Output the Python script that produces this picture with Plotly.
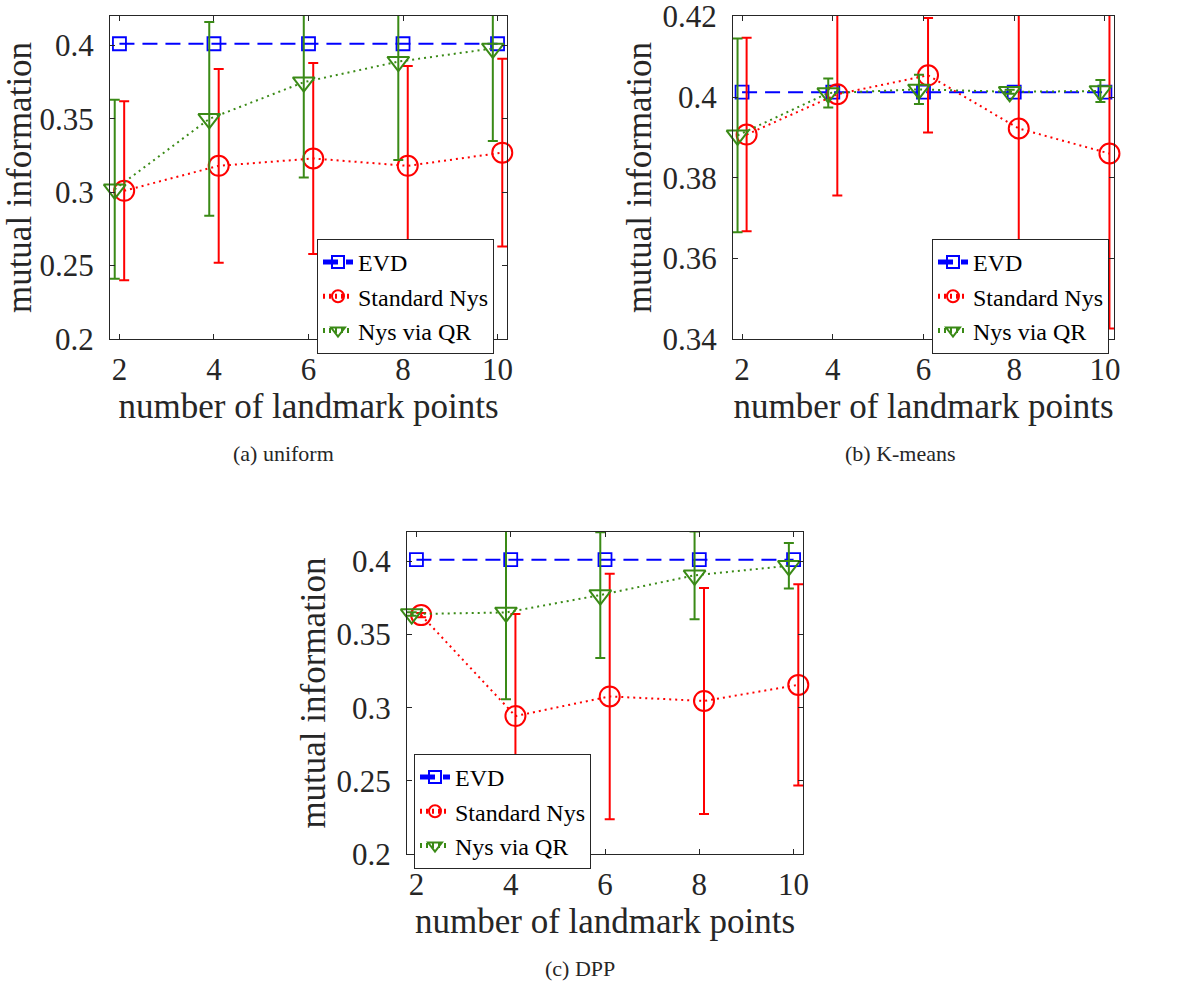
import plotly.graph_objects as go

# number of landmark points on the x axis
landmarks = [2, 4, 6, 8, 10]

# (a) uniform sampling
uniform_evd = [0.4012, 0.4012, 0.4012, 0.4012, 0.4012]
uniform_std_nys = [0.301, 0.318, 0.323, 0.318, 0.327]
uniform_std_nys_err = [0.061, 0.066, 0.065, 0.068, 0.064]
uniform_qr = [0.302, 0.350, 0.375, 0.389, 0.398]
uniform_qr_err = [0.061, 0.066, 0.065, 0.067, 0.063]

# (b) K-means sampling
kmeans_evd = [0.4012, 0.4012, 0.4012, 0.4012, 0.4012]
kmeans_std_nys = [0.3907, 0.4007, 0.4054, 0.3922, 0.3860]
kmeans_std_nys_err = [0.0240, 0.0251, 0.0142, 0.0320, 0.0434]
kmeans_qr = [0.3905, 0.4010, 0.4019, 0.4013, 0.4015]
kmeans_qr_err = [0.0240, 0.0036, 0.0036, 0.0005, 0.0027]

# (c) DPP sampling
dpp_evd = [0.4012, 0.4012, 0.4012, 0.4012, 0.4012]
dpp_std_nys = [0.3633, 0.2943, 0.3077, 0.3046, 0.3156]
dpp_std_nys_err = [0.0015, 0.0697, 0.0839, 0.0773, 0.0688]
dpp_qr = [0.3640, 0.3651, 0.3770, 0.3905, 0.3970]
dpp_qr_err = [0.0012, 0.0594, 0.0430, 0.0300, 0.0156]

# y-axis ticks per panel
ticks_a = [0.2, 0.25, 0.3, 0.35, 0.4]
ticklabels_a = ["0.2", "0.25", "0.3", "0.35", "0.4"]
ticks_b = [0.34, 0.36, 0.38, 0.4, 0.42]
ticklabels_b = ["0.34", "0.36", "0.38", "0.4", "0.42"]
ticks_c = [0.2, 0.25, 0.3, 0.35, 0.4]
ticklabels_c = ["0.2", "0.25", "0.3", "0.35", "0.4"]
xticks = [2, 4, 6, 8, 10]
xticklabels = ["2", "4", "6", "8", "10"]

series_names = ["EVD", "Standard Nys", "Nys via QR"]
captions = ["(a) uniform", "(b) K-means", "(c) DPP"]

W, H = 1204, 983
FONT = "Liberation Serif"
TXT = "#262626"
BLUE = "#0000FF"
RED = "#FF0000"
GREEN = "#3A8A16"

# horizontal jitter so that the error bars do not overlap
shift_std = 0.1
shift_qr = -0.1

fig = go.Figure()

panels = [
    dict(evd=uniform_evd, std=uniform_std_nys, std_e=uniform_std_nys_err,
         qr=uniform_qr, qr_e=uniform_qr_err, yr=[0.2, 0.42],
         tv=ticks_a, tt=ticklabels_a,
         box=(110, 507, 16, 339), leg=(317, 239), cap=(283, 453)),
    dict(evd=kmeans_evd, std=kmeans_std_nys, std_e=kmeans_std_nys_err,
         qr=kmeans_qr, qr_e=kmeans_qr_err, yr=[0.34, 0.42],
         tv=ticks_b, tt=ticklabels_b,
         box=(733, 1114, 16, 339), leg=(932, 239), cap=(900, 453)),
    dict(evd=dpp_evd, std=dpp_std_nys, std_e=dpp_std_nys_err,
         qr=dpp_qr, qr_e=dpp_qr_err, yr=[0.2, 0.42],
         tv=ticks_c, tt=ticklabels_c,
         box=(407, 803, 532, 854), leg=(414, 754), cap=(580, 968)),
]

layout_extra = {}
for i, p in enumerate(panels):
    k = "" if i == 0 else str(i + 1)
    xa, ya, lg = "x" + k, "y" + k, "legend" + k
    x0, x1, y0, y1 = p["box"]

    fig.add_trace(go.Scatter(
        x=landmarks, y=p["evd"], xaxis=xa, yaxis=ya, legend=lg,
        name=series_names[0], mode="lines+markers", cliponaxis=False,
        line=dict(color=BLUE, width=2, dash="15px,8px"),
        marker=dict(symbol="square-open", size=13, color=BLUE,
                    line=dict(width=1.8, color=BLUE)),
    ))
    fig.add_trace(go.Scatter(
        x=[v + shift_std for v in landmarks], y=p["std"], xaxis=xa, yaxis=ya,
        legend=lg, name=series_names[1], mode="lines+markers",
        cliponaxis=False,
        line=dict(color=RED, width=2, dash="2px,4px"),
        marker=dict(symbol="circle-open", size=20, color=RED,
                    line=dict(width=2, color=RED)),
        error_y=dict(type="data", array=p["std_e"], visible=True,
                     color=RED, thickness=2, width=5),
    ))
    fig.add_trace(go.Scatter(
        x=[v + shift_qr for v in landmarks], y=p["qr"], xaxis=xa, yaxis=ya,
        legend=lg, name=series_names[2], mode="lines+markers",
        cliponaxis=False,
        line=dict(color=GREEN, width=2, dash="2px,4px"),
        marker=dict(symbol="triangle-down-open", size=19, color=GREEN,
                    line=dict(width=2, color=GREEN)),
        error_y=dict(type="data", array=p["qr_e"], visible=True,
                     color=GREEN, thickness=2, width=5),
    ))

    axis_common = dict(
        showline=True, linecolor=TXT, linewidth=1, mirror="ticks",
        ticks="inside", ticklen=5, tickwidth=1, tickcolor=TXT,
        showgrid=False, zeroline=False, automargin=False,
        ticklabeloverflow="allow",
        tickfont=dict(family=FONT, size=31, color=TXT),
    )
    layout_extra["xaxis" + k] = dict(
        axis_common, domain=[x0 / W, x1 / W], range=[1.8, 10.2],
        anchor=ya, tickvals=xticks, ticktext=xticklabels,
        ticklabelstandoff=3,
        title=dict(text="number of landmark points", standoff=2,
                   font=dict(family=FONT, size=35, color=TXT)),
    )
    layout_extra["yaxis" + k] = dict(
        axis_common, domain=[1 - y1 / H, 1 - y0 / H],
        range=[p["yr"][0], p["yr"][1] + 1e-4],
        anchor=xa, tickvals=p["tv"], ticktext=p["tt"],
        ticklabelstandoff=9,
        title=dict(text="mutual information", standoff=0,
                   font=dict(family=FONT, size=35, color=TXT)),
    )
    lx, ly = p["leg"]
    layout_extra[lg] = dict(
        x=lx / W, y=1 - ly / H, xanchor="left", yanchor="top",
        bgcolor="white", bordercolor=TXT, borderwidth=1,
        font=dict(family=FONT, size=24, color="black"),
        tracegroupgap=0, itemsizing="constant",
    )
    fig.add_annotation(
        x=p["cap"][0] / W, y=1 - p["cap"][1] / H, xref="paper", yref="paper",
        text=captions[i], showarrow=False, xanchor="center", yanchor="middle",
        font=dict(family=FONT, size=22, color=TXT),
    )

fig.update_layout(
    width=W, height=H, margin=dict(l=0, r=0, t=0, b=0),
    paper_bgcolor="white", plot_bgcolor="white",
    showlegend=True, **layout_extra,
)

fig.write_html("out.html")
